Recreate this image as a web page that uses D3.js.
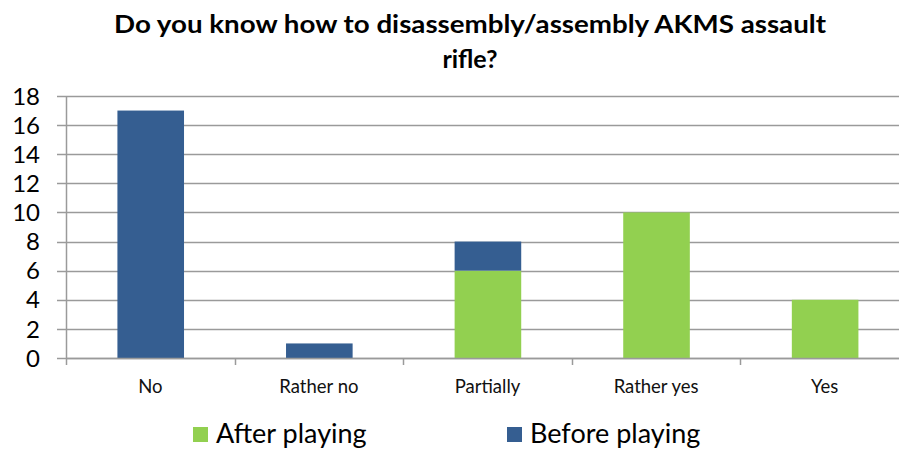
<!DOCTYPE html>
<html>
<head>
<meta charset="utf-8">
<script src="https://cdn.jsdelivr.net/npm/d3@7"></script>
<style>
  body { margin: 0; background: #fff; }
  text { font-family: Lato, "Open Sans", sans-serif; }
</style>
</head>
<body>
<div id="chart"></div>
<script>
// Data
var categories = ["No", "Rather no", "Partially", "Rather yes", "Yes"];
var afterPlaying = [0, 0, 6, 10, 4];
var beforePlaying = [17, 1, 2, 0, 0];
var seriesNames = ["After playing", "Before playing"];
var yTicks = [0, 2, 4, 6, 8, 10, 12, 14, 16, 18];

var width = 899, height = 450;
var colors = { after: "#92d050", before: "#355e91" };

var rows = categories.map(function(c, i) {
    return { cat: c, after: afterPlaying[i], before: beforePlaying[i] };
});
var stack = d3.stack().keys(["after", "before"])(rows);

var x = d3.scaleBand().domain(categories).range([66, 909]).paddingInner(0).paddingOuter(0);
var y = d3.scaleLinear().domain([0, 18]).range([358, 96]);

var svg = d3.select("#chart").append("svg")
    .attr("width", width)
    .attr("height", height);

// title
var title = svg.append("text")
    .attr("text-anchor", "middle")
    .attr("font-weight", "bold")
    .attr("font-size", 25)
    .attr("fill", "#000");
title.append("tspan").attr("x", 470).attr("y", 33)
    .attr("textLength", 712)
    .attr("lengthAdjust", "spacingAndGlyphs")
    .text("Do you know how to disassembly/assembly AKMS assault");
title.append("tspan").attr("x", 470).attr("y", 68).text("rifle?");

// gridlines
svg.append("g").selectAll("line")
    .data(yTicks)
    .enter().append("line")
    .attr("x1", 57).attr("x2", width)
    .attr("y1", function(d) { return Math.round(y(d)) + 0.5; })
    .attr("y2", function(d) { return Math.round(y(d)) + 0.5; })
    .attr("stroke", "#9a9a9a")
    .attr("stroke-width", 1.5);

// y labels
svg.append("g").selectAll("text")
    .data(yTicks)
    .enter().append("text")
    .attr("x", 40)
    .attr("y", function(d) { return y(d); })
    .attr("dy", "0.36em")
    .attr("text-anchor", "end")
    .attr("font-size", 24)
    .attr("fill", "#000")
    .text(function(d) { return d; });

// bars
svg.append("g").selectAll("g")
    .data(stack)
    .enter().append("g")
    .attr("fill", function(s) { return colors[s.key]; })
    .selectAll("rect")
    .data(function(s) { return s; })
    .enter().append("rect")
    .attr("x", function(d) { return x(d.data.cat) + x.bandwidth() * 0.305; })
    .attr("width", x.bandwidth() * 0.395)
    .attr("y", function(d) { return y(d[1]); })
    .attr("height", function(d) { return y(d[0]) - y(d[1]); });

// axes lines
svg.append("line")
    .attr("x1", 66.5).attr("x2", 66.5)
    .attr("y1", 96).attr("y2", 365)
    .attr("stroke", "#9a9a9a").attr("stroke-width", 1.5);
svg.append("line")
    .attr("x1", 66).attr("x2", width)
    .attr("y1", 358.5).attr("y2", 358.5)
    .attr("stroke", "#9a9a9a").attr("stroke-width", 1.5);

var boundaries = categories.map(function(c) { return x(c); });
svg.append("g").selectAll("line")
    .data(boundaries.slice(1))
    .enter().append("line")
    .attr("x1", function(d) { return Math.round(d) + 0.5; })
    .attr("x2", function(d) { return Math.round(d) + 0.5; })
    .attr("y1", 358).attr("y2", 365)
    .attr("stroke", "#9a9a9a").attr("stroke-width", 1.5);

// x labels
svg.append("g").selectAll("text")
    .data(categories)
    .enter().append("text")
    .attr("x", function(d) { return x(d) + x.bandwidth() / 2; })
    .attr("y", 393)
    .attr("text-anchor", "middle")
    .attr("font-size", 18.5)
    .attr("fill", "#111")
    .text(function(d) { return d; });

// legend
var legendX = [193, 507];
var legend = svg.append("g").selectAll("g")
    .data(seriesNames)
    .enter().append("g")
    .attr("transform", function(d, i) { return "translate(" + legendX[i] + ",427)"; });
legend.append("rect")
    .attr("width", 15).attr("height", 15)
    .attr("fill", function(d, i) { return i === 0 ? colors.after : colors.before; });
legend.append("text")
    .attr("x", 23).attr("y", 16)
    .attr("font-size", 27)
    .attr("fill", "#000")
    .text(function(d) { return d; });
</script>
</body>
</html>
